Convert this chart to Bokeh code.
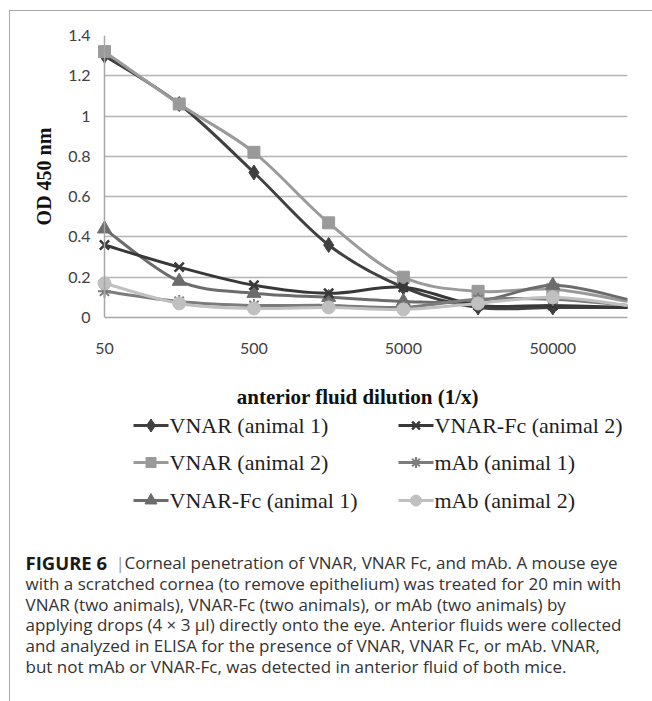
import numpy as np
from bokeh.plotting import figure
from bokeh.models import Range1d, FixedTicker, ColumnDataSource, NumeralTickFormatter, Span
from bokeh.layouts import column
from bokeh.embed import file_html
from bokeh.resources import INLINE
from bokeh.core.properties import value

# ---------------- data ----------------
dilutions = ["50", "150", "500", "1500", "5000", "15000", "50000", "150000"]
shown_ticks = ["50", "500", "5000", "50000"]

vnar_animal1 = [1.30, 1.06, 0.72, 0.36, 0.15, 0.05, 0.05, 0.05]
vnar_animal2 = [1.32, 1.06, 0.82, 0.47, 0.20, 0.13, 0.14, 0.08]
vnarfc_animal1 = [0.44, 0.18, 0.12, 0.10, 0.08, 0.08, 0.16, 0.09]
vnarfc_animal2 = [0.36, 0.25, 0.16, 0.12, 0.15, 0.06, 0.06, 0.05]
mab_animal1 = [0.13, 0.08, 0.06, 0.06, 0.05, 0.09, 0.09, 0.06]
mab_animal2 = [0.17, 0.07, 0.045, 0.05, 0.04, 0.07, 0.10, 0.06]

series_names = ["VNAR (animal 1)", "VNAR (animal 2)", "VNAR-Fc (animal 1)",
                "VNAR-Fc (animal 2)", "mAb (animal 1)", "mAb (animal 2)"]
series_values = [vnar_animal1, vnar_animal2, vnarfc_animal1,
                 vnarfc_animal2, mab_animal1, mab_animal2]

caption_lines = [
    "with a scratched cornea (to remove epithelium) was treated for 20 min with",
    "VNAR (two animals), VNAR-Fc (two animals), or mAb (two animals) by",
    "applying drops (4 \u00d7 3 \u00b5l) directly onto the eye. Anterior fluids were collected",
    "and analyzed in ELISA for the presence of VNAR, VNAR Fc, or mAb. VNAR,",
    "but not mAb or VNAR-Fc, was detected in anterior fluid of both mice.",
]
caption_head = "FIGURE 6"
caption_first = "Corneal penetration of VNAR, VNAR Fc, and mAb. A mouse eye"

# ---------------- styles ----------------
styles = [
    dict(line="#404040", marker="diamond", fill="#404040", size=15, lw=1),
    dict(line="#9a9a9a", marker="square", fill="#9a9a9a", size=12, lw=1),
    dict(line="#6c6c6c", marker="triangle", fill="#6c6c6c", size=14, lw=1),
    dict(line="#383838", marker="x", fill="#383838", size=13, lw=2.5),
    dict(line="#7c7c7c", marker="asterisk", fill="#7c7c7c", size=13, lw=2),
    dict(line="#c0c0c0", marker="circle", fill="#c0c0c0", size=13, lw=1),
]


def smooth_segments(xs, ys):
    n = len(xs)
    pts = list(zip(xs, ys))
    seg = dict(x0=[], y0=[], x1=[], y1=[], cx0=[], cy0=[], cx1=[], cy1=[])
    for i in range(n - 1):
        p0 = pts[i - 1] if i > 0 else pts[i]
        p1 = pts[i]
        p2 = pts[i + 1]
        p3 = pts[i + 2] if i + 2 < n else pts[i + 1]
        seg["x0"].append(p1[0]); seg["y0"].append(p1[1])
        seg["x1"].append(p2[0]); seg["y1"].append(p2[1])
        seg["cx0"].append(p1[0] + (p2[0] - p0[0]) / 6.0)
        seg["cy0"].append(p1[1] + (p2[1] - p0[1]) / 6.0)
        seg["cx1"].append(p2[0] - (p3[0] - p1[0]) / 6.0)
        seg["cy1"].append(p2[1] - (p3[1] - p1[1]) / 6.0)
    return seg


# ---------------- chart ----------------
xidx = list(range(len(dilutions)))
xmax = len(dilutions) - 1
px_per_cat = 523.0 / xmax          # plot area 523 px wide between first and last dilution
left_pad = 11.0 / px_per_cat       # small room so the first markers are not clipped

p1 = figure(width=642, height=401, x_range=Range1d(-left_pad, xmax),
            y_range=Range1d(0, 1.4), output_backend="svg", toolbar_location=None,
            min_border_left=83, min_border_right=25, min_border_top=24,
            min_border_bottom=95)
p1.outline_line_color = None
p1.background_fill_color = "white"
p1.border_fill_color = "white"

p1.xgrid.visible = False
p1.ygrid.grid_line_color = "#b4b4b4"
p1.ygrid.grid_line_width = 1.5
try:
    p1.ygrid.cross_bounds = (0, xmax)
except Exception:
    pass

tick_font = "Lato"
p1.yaxis.ticker = FixedTicker(ticks=[0, 0.2, 0.4, 0.6, 0.8, 1.0, 1.2, 1.4])
p1.yaxis.formatter = NumeralTickFormatter(format="0.[0]")
p1.xaxis.ticker = FixedTicker(ticks=[dilutions.index(t) for t in shown_ticks])
p1.xaxis.major_label_overrides = {dilutions.index(t): t for t in shown_ticks}
p1.xaxis.bounds = (0, xmax)

for ax in (p1.xaxis[0], p1.yaxis[0]):
    ax.major_tick_in = 0
    ax.major_tick_out = 0
    ax.minor_tick_in = 0
    ax.minor_tick_out = 0
    ax.axis_line_color = "#a6a6a6"
    ax.axis_line_width = 1.5
    ax.major_label_text_font = tick_font
    ax.major_label_text_font_size = "16px"
    ax.major_label_text_color = "#404040"
    ax.axis_label_text_font = "Liberation Serif"
    ax.axis_label_text_font_style = "bold"
    ax.axis_label_text_color = "#111111"

p1.yaxis.axis_line_color = None
p1.yaxis.major_label_standoff = 3
p1.yaxis.axis_label = "OD 450 nm"
p1.yaxis.axis_label_text_font_size = "20px"
p1.yaxis.axis_label_standoff = 10
p1.add_layout(Span(location=0, dimension="height", line_color="#a6a6a6", line_width=1.5))

p1.xaxis.major_label_standoff = 25
p1.xaxis.axis_label = "anterior fluid dilution  (1/x)"
p1.xaxis.axis_label_text_font_size = "21px"
p1.xaxis.axis_label_standoff = 28

nmark = len(dilutions) - 1  # markers on the first seven dilutions only
for vals, st in zip(series_values, styles):
    seg = smooth_segments(xidx, vals)
    p1.bezier(x0="x0", y0="y0", x1="x1", y1="y1", cx0="cx0", cy0="cy0",
              cx1="cx1", cy1="cy1", source=ColumnDataSource(seg),
              line_color=st["line"], line_width=3, line_cap="round")
    p1.scatter(xidx[:nmark], vals[:nmark], marker=st["marker"], size=st["size"],
               fill_color=st["fill"], line_color=st["line"], line_width=st["lw"])

# ---------------- legend + caption panel ----------------
p2 = figure(width=642, height=289, x_range=Range1d(10, 652), y_range=Range1d(701, 412),
            output_backend="svg", toolbar_location=None, min_border=0)
p2.axis.visible = False
p2.grid.visible = False
p2.outline_line_color = None
p2.background_fill_color = "white"
p2.border_fill_color = "white"

for fig in (p1, p2):
    try:
        fig.frame_align = False
    except Exception:
        pass

leg_cols = [133, 398]
leg_rows = [425, 462, 500]
for k, (name, st) in enumerate(zip(series_names, styles)):
    cx = leg_cols[k // 3]
    cy = leg_rows[k % 3]
    p2.line([cx, cx + 35], [cy, cy], line_color=st["line"], line_width=3)
    p2.scatter([cx + 17.5], [cy], marker=st["marker"], size=st["size"] - 2,
               fill_color=st["fill"], line_color=st["line"], line_width=st["lw"])
    p2.text([cx + 36], [cy], text=[name], text_baseline="middle",
            text_font=value("Liberation Serif"), text_font_size="22px",
            text_color="#1e1e1e")

cap_font = value("Open Sans")
cap_size = "17px"
cap_y0 = 562
cap_dy = 20.8
p2.text([25], [cap_y0], text=[caption_head], text_baseline="middle",
        text_font=cap_font, text_font_style="bold", text_font_size="18.5px",
        text_color="#1a1a1a")
p2.text([115], [cap_y0], text=["|"], text_baseline="middle",
        text_font=cap_font, text_font_size=cap_size, text_color="#9a9a9a")
p2.text([124], [cap_y0], text=[caption_first], text_baseline="middle",
        text_font=cap_font, text_font_size=cap_size, text_color="#333333")
p2.text([25] * len(caption_lines),
        [cap_y0 + cap_dy * (i + 1) for i in range(len(caption_lines))],
        text=caption_lines, text_baseline="middle",
        text_font=cap_font, text_font_size=cap_size, text_color="#333333")

root = column(p1, p2, margin=(10, 0, 0, 9),
              styles={"border-left": "1px solid #a8a8a8",
                      "border-top": "1px solid #a8a8a8"})

open("out.html", "w").write(file_html(root, INLINE))
